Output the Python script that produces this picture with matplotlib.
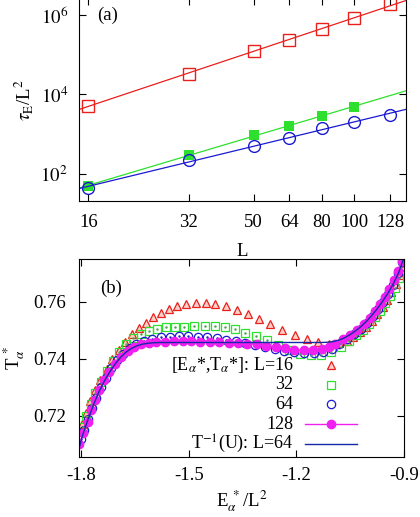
import numpy as np
import matplotlib
matplotlib.use("Agg")
import matplotlib.pyplot as plt

plt.rcParams['font.family'] = ['Liberation Serif', 'DejaVu Serif']
plt.rcParams['mathtext.fontset'] = 'stix'
plt.rcParams['font.size'] = 13.5

# ---- panel (a): relaxation time vs L ----
L_all = [16, 32, 50, 64, 80, 100, 128]
tau_red = [5200, 3.4e4, 1.26e5, 2.4e5, 4.6e5, 8.4e5, 1.9e6]
L_green = [16, 32, 50, 64, 80, 100]
tau_green = [49, 290, 940, 1600, 2900, 4900]
tau_blue = [44, 215, 490, 790, 1420, 2000, 3100]
L_ticks = [16, 32, 50, 64, 80, 100, 128]

# ---- panel (b): microcanonical temperature ----
red_x = [-1.797, -1.786, -1.775, -1.761, -1.746, -1.728, -1.714, -1.695, -1.678, -1.658,
         -1.640, -1.619, -1.599, -1.578, -1.556, -1.533, -1.508, -1.481, -1.453, -1.426,
         -1.396, -1.366, -1.336, -1.305, -1.273, -1.239, -1.205, -1.171, -1.140, -1.108,
         -1.080, -1.060, -1.041, -1.022, -1.005, -0.989, -0.974, -0.960, -0.947, -0.935,
         -0.923, -0.911, -0.900]
red_y = [0.7170, 0.7209, 0.7251, 0.7289, 0.7326, 0.7365, 0.7398, 0.7429, 0.7458, 0.7488,
         0.7507, 0.7527, 0.7548, 0.7561, 0.7575, 0.7585, 0.7591, 0.7595, 0.7595, 0.7591,
         0.7584, 0.7572, 0.7558, 0.7541, 0.7521, 0.7501, 0.7482, 0.7469, 0.7457, 0.7452,
         0.7455, 0.7463, 0.7476, 0.7493, 0.7512, 0.7533, 0.7556, 0.7580, 0.7606, 0.7633,
         0.7662, 0.7693, 0.7725]

green_x = [-1.795, -1.785, -1.773, -1.760, -1.745, -1.729, -1.712, -1.694, -1.675, -1.655,
           -1.634, -1.611, -1.588, -1.564, -1.539, -1.512, -1.484, -1.456, -1.428, -1.400,
           -1.372, -1.342, -1.312, -1.282, -1.252, -1.221, -1.190, -1.160, -1.131, -1.103,
           -1.076, -1.053, -1.033, -1.014, -0.997, -0.981, -0.966, -0.952, -0.939, -0.926,
           -0.913, -0.901]
green_y = [0.7160, 0.7200, 0.7240, 0.7280, 0.7320, 0.7358, 0.7392, 0.7425, 0.7452, 0.7472,
           0.7488, 0.7499, 0.7506, 0.7510, 0.7512, 0.7513, 0.7514, 0.7514, 0.7514, 0.7511,
           0.7503, 0.7492, 0.7480, 0.7465, 0.7449, 0.7432, 0.7418, 0.7412, 0.7414, 0.7422,
           0.7440, 0.7462, 0.7482, 0.7502, 0.7523, 0.7545, 0.7569, 0.7594, 0.7621, 0.7650,
           0.7685, 0.7722]

blue_x = [-1.800, -1.792, -1.781, -1.770, -1.758, -1.745, -1.731, -1.716, -1.700, -1.683,
          -1.665, -1.646, -1.625, -1.602, -1.578, -1.553, -1.527, -1.501, -1.475, -1.449,
          -1.422, -1.396, -1.369, -1.342, -1.315, -1.288, -1.261, -1.234, -1.206, -1.179,
          -1.152, -1.126, -1.102, -1.080, -1.059, -1.040, -1.021, -1.003, -0.987, -0.972,
          -0.958, -0.944, -0.931, -0.918, -0.906]
blue_y = [0.7120, 0.7150, 0.7188, 0.7226, 0.7263, 0.7300, 0.7334, 0.7366, 0.7394, 0.7418,
          0.7437, 0.7452, 0.7463, 0.7470, 0.7475, 0.7478, 0.7479, 0.7479, 0.7478, 0.7476,
          0.7472, 0.7467, 0.7461, 0.7454, 0.7447, 0.7440, 0.7434, 0.7428, 0.7425, 0.7420,
          0.7419, 0.7424, 0.7435, 0.7452, 0.7468, 0.7486, 0.7506, 0.7527, 0.7550, 0.7574,
          0.7600, 0.7628, 0.7658, 0.7700, 0.7738]

mag_x = [-1.805, -1.794, -1.781, -1.772, -1.761, -1.749, -1.735, -1.721, -1.705, -1.689,
         -1.670, -1.652, -1.633, -1.612, -1.590, -1.566, -1.541, -1.516, -1.493, -1.468,
         -1.442, -1.416, -1.389, -1.363, -1.337, -1.310, -1.284, -1.256, -1.231, -1.206,
         -1.180, -1.155, -1.130, -1.110, -1.092, -1.071, -1.050, -1.030, -1.012, -0.995,
         -0.980, -0.966, -0.953, -0.941, -0.929, -0.918, -0.906]
mag_y = [0.7099, 0.7139, 0.7178, 0.7219, 0.7254, 0.7291, 0.7324, 0.7353, 0.7382, 0.7406,
         0.7427, 0.7441, 0.7451, 0.7456, 0.7459, 0.7460, 0.7461, 0.7461, 0.7461, 0.7459,
         0.7458, 0.7457, 0.7456, 0.7455, 0.7453, 0.7450, 0.7446, 0.7441, 0.7436, 0.7431,
         0.7429, 0.7430, 0.7435, 0.7442, 0.7453, 0.7468, 0.7484, 0.7502, 0.7522, 0.7544,
         0.7567, 0.7592, 0.7618, 0.7646, 0.7676, 0.7707, 0.7742]

inv_x = [-1.806, -1.795, -1.780, -1.765, -1.750, -1.735, -1.720, -1.705, -1.690, -1.675,
         -1.660, -1.645, -1.630, -1.615, -1.600, -1.580, -1.550, -1.500, -1.400, -1.300,
         -1.200, -1.130, -1.110, -1.095, -1.080, -1.065, -1.050, -1.035, -1.020, -1.005,
         -0.990, -0.975, -0.960, -0.945, -0.930, -0.915, -0.903]
inv_y = [0.7085, 0.7135, 0.7190, 0.7240, 0.7285, 0.7322, 0.7354, 0.7382, 0.7405, 0.7423,
         0.7436, 0.7445, 0.7451, 0.7454, 0.7456, 0.7457, 0.7457, 0.7457, 0.7457, 0.7457,
         0.7457, 0.7457, 0.7458, 0.7461, 0.7466, 0.7474, 0.7485, 0.7498, 0.7513, 0.7531,
         0.7552, 0.7575, 0.7601, 0.7630, 0.7663, 0.7702, 0.7745]

RED = '#e8201c'
GREEN = '#2ee02e'
BLUE = '#1a1ad0'
MAG = '#f020f0'
DBLUE = '#1428a8'

fig = plt.figure(figsize=(4.2, 5.17), dpi=100)
ax1 = fig.add_axes([0.188, 0.611, 0.779, 0.392])
ax2 = fig.add_axes([0.188, 0.116, 0.774, 0.383])

# panel (a)
xlim = (15.0, 143.0)
xfit = np.array(xlim)
for L, tau, col, mk, kw in [(L_all, tau_red, RED, 's', dict(mfc='none', ms=9, mew=1.0)),
                            (L_green, tau_green, GREEN, 's', dict(mfc=GREEN, ms=7, mew=0)),
                            (L_all, tau_blue, BLUE, 'o', dict(mfc='none', ms=8.5, mew=1.0))]:
    p = np.polyfit(np.log(L), np.log(tau), 1)
    ax1.plot(xfit, np.exp(np.polyval(p, np.log(xfit))), color=col, lw=0.9)
    ax1.plot(L, tau, ls='none', marker=mk, mec=col, **kw)

ax1.set_xscale('log')
ax1.set_yscale('log')
ax1.set_xlim(*xlim)
ax1.set_ylim(20, 2.7e6)
ax1.set_xticks(L_ticks)
ax1.set_xticklabels([str(v) for v in L_ticks])
ax1.xaxis.set_minor_locator(matplotlib.ticker.NullLocator())
ax1.yaxis.set_minor_locator(matplotlib.ticker.NullLocator())
ax1.set_yticks([1e2, 1e4, 1e6])
ax1.set_yticklabels([r'$10^2$', r'$10^4$', r'$10^6$'])
ax1.tick_params(direction='in', length=5, width=0.8, top=True, right=True)
ax1.tick_params(axis='x', pad=9)
ax1.tick_params(axis='y', pad=8)
ax1.set_xlabel('L', labelpad=9)
ax1.set_ylabel(r'$\tau_{\rm E}$/L$^{2}$', labelpad=4)
ax1.text(0.086, 0.915, '(a)', transform=ax1.transAxes, ha='center', va='center')

# panel (b)
ax2.plot(red_x, red_y, ls='none', marker='^', ms=5.5, mfc='#ffd0c8', mec=RED, mew=0.9)
ax2.plot(green_x, green_y, ls='none', marker='s', ms=5.5, mfc='none', mec=GREEN, mew=0.9)
ax2.plot(blue_x, blue_y, ls='none', marker='o', ms=6, mfc='none', mec=BLUE, mew=0.9)
ax2.plot(green_x, green_y, ls='none', marker='.', ms=1.5, color='#50a050')
ax2.plot(blue_x, blue_y, ls='none', marker='.', ms=1.5, color=BLUE)
ax2.plot(mag_x, mag_y, color=MAG, lw=1.0, marker='o', ms=6, mec=MAG, mfc=MAG)
ax2.plot(inv_x, inv_y, color=DBLUE, lw=1.0)

ax2.set_xlim(-1.806, -0.9)
ax2.set_ylim(0.7055, 0.775)
ax2.set_xticks([-1.8, -1.5, -1.2, -0.9])
ax2.set_xticklabels(['-1.8', '-1.5', '-1.2', '-0.9'])
ax2.set_yticks([0.72, 0.74, 0.76])
ax2.set_yticklabels(['0.72', '0.74', '0.76'])
ax2.tick_params(direction='in', length=5, width=0.8, top=True, right=True)
ax2.tick_params(axis='x', pad=7)
ax2.tick_params(axis='y', pad=9)
ax2.set_xlabel(r'E$_{\alpha}^{\ *}$/L$^{2}$', labelpad=3)
ax2.set_ylabel(r'T$_{\alpha}^{\ *}$', labelpad=5)
ax2.text(0.10, 0.853, '(b)', transform=ax2.transAxes, ha='center', va='center')

# key, gnuplot style: right-aligned labels, samples to the right
labels = [r'[E$_{\alpha}$*,T$_{\alpha}$*]: L=16', '32', '64', '128', r'T$^{-1}$(U): L=64']
rows = [0.466, 0.366, 0.266, 0.166, 0.066]
tx, s0, s1 = 0.660, 0.694, 0.856
sm = 0.5 * (s0 + s1)
for lab, yy in zip(labels, rows):
    ax2.text(tx, yy, lab, transform=ax2.transAxes, ha='right', va='center', fontsize=13)
ax2.plot([sm], [rows[0]], transform=ax2.transAxes, ls='none', marker='^', ms=5.5,
         mfc='#ffd0c8', mec=RED, mew=0.9)
ax2.plot([sm], [rows[1]], transform=ax2.transAxes, ls='none', marker='s', ms=5.5,
         mfc='none', mec=GREEN, mew=0.9)
ax2.plot([sm], [rows[2]], transform=ax2.transAxes, ls='none', marker='o', ms=6,
         mfc='none', mec=BLUE, mew=0.9)
ax2.plot([s0, s1], [rows[3]] * 2, transform=ax2.transAxes, color=MAG, lw=1.0)
ax2.plot([sm], [rows[3]], transform=ax2.transAxes, ls='none', marker='o', ms=6, color=MAG)
ax2.plot([s0, s1], [rows[4]] * 2, transform=ax2.transAxes, color=DBLUE, lw=1.0)

fig.savefig('out.png', dpi=100)
